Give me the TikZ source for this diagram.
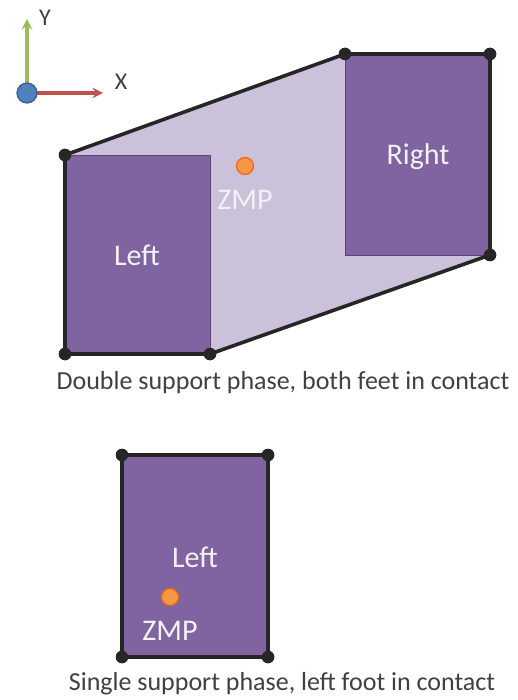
\documentclass[tikz,border=0pt]{standalone}
\usepackage{fontspec}
\setmainfont{Carlito}
\usetikzlibrary{positioning}
\begin{document}
\begin{tikzpicture}[x=1pt, y=-1pt, >=stealth,
	vtx/.style={circle, fill=black!85, inner sep=0pt, minimum size=12.5pt},
	footlbl/.style={text=labelwhite, font=\fontsize{30}{34}\selectfont},
	zmpdot/.style={circle, fill=zmporange, draw=zmpedge, line width=1.2pt, inner sep=0pt, minimum size=17pt},
	phasetext/.style={text=captiongray, font=\fontsize{26}{30}\selectfont},
	axislbl/.style={text=captiongray, font=\fontsize{24}{28}\selectfont}]
	\definecolor{footpurple}{RGB}{128,100,162}
	\definecolor{hullpurple}{RGB}{204,193,218}
	\definecolor{zmporange}{RGB}{247,150,70}
	\definecolor{zmpedge}{RGB}{228,108,10}
	\definecolor{labelwhite}{RGB}{242,242,242}
	\definecolor{captiongray}{RGB}{64,64,64}
	\definecolor{axisgreen}{RGB}{155,187,89}
	\definecolor{axisred}{RGB}{192,80,77}
	\definecolor{axisblue}{RGB}{79,129,189}
	\definecolor{axisedge}{RGB}{56,93,138}
	
	\useasboundingbox (0,0) rectangle (517,700);
	
	% axes
	\coordinate (yend) at (27,19);
	\coordinate (xend) at (103,93);
	\draw[->, line width=3.6pt, axisgreen] (27,93) -- (yend);
	\draw[->, line width=3.6pt, axisred] (27,93) -- (xend);
	\node[circle, fill=axisblue, draw=axisedge, line width=1.2pt, inner sep=0pt, minimum size=20pt] (o) at (27,93) {};
	\node[axislbl] (ylbl) at (45,18) {Y};
	\node[axislbl] (xlbl) at (121,82) {X};
	
	% double support: corners
	\node[vtx] (l1) at (65,155) {};
	\node[vtx] (l2) at (65,354) {};
	\node[vtx] (l3) at (210,354) {};
	\node[vtx] (r1) at (345,54) {};
	\node[vtx] (r2) at (490,54) {};
	\node[vtx] (r3) at (490,255) {};
	
	% support polygon and feet
	\fill[hullpurple] (l1.center) -- (r1.center) -- (r2.center) -- (r3.center) -- (l3.center) -- (l2.center) -- cycle;
	\fill[footpurple] (l1.center) rectangle (l3.center);
	\fill[footpurple] (r1.center) rectangle (r3.center);
	\draw[footpurple!70!black, line width=0.8pt] (l1.center) -| (l3.center);
	\draw[footpurple!70!black, line width=0.8pt] (r1.center) |- (r3.center);
	\draw[black!85, line width=3.6pt, line join=round] (l1.center) -- (r1.center) -- (r2.center) -- (r3.center) -- (l3.center) -- (l2.center) -- cycle;
	\foreach \v in {l1,l2,l3,r1,r2,r3}
		\node[vtx] at (\v) {};
	
	\node[footlbl] (leftA) at (137,255) {Left};
	\node[footlbl] (rightA) at (418,157) {Right};
	\node[zmpdot] (zmpA) at (245,166) {};
	\node[footlbl, below=12pt of zmpA] (zmplblA) {ZMP};
	
	\node[phasetext] (phaseA) at (283,383) {Double support phase, both feet in contact};
	
	% single support
	\node[vtx] (s1) at (122,455) {};
	\node[vtx] (s2) at (268,455) {};
	\node[vtx] (s3) at (268,657) {};
	\node[vtx] (s4) at (122,657) {};
	\fill[footpurple] (s1.center) rectangle (s3.center);
	\draw[black!85, line width=3.6pt, line join=round] (s1.center) -- (s2.center) -- (s3.center) -- (s4.center) -- cycle;
	\foreach \v in {s1,s2,s3,s4}
		\node[vtx] at (\v) {};
	
	\node[footlbl] (leftB) at (195,557) {Left};
	\node[zmpdot] (zmpB) at (170,597) {};
	\node[footlbl, below=12pt of zmpB] (zmplblB) {ZMP};
	
	\node[phasetext] (phaseB) at (282,684) {Single support phase, left foot in contact};
\end{tikzpicture}
\end{document}
